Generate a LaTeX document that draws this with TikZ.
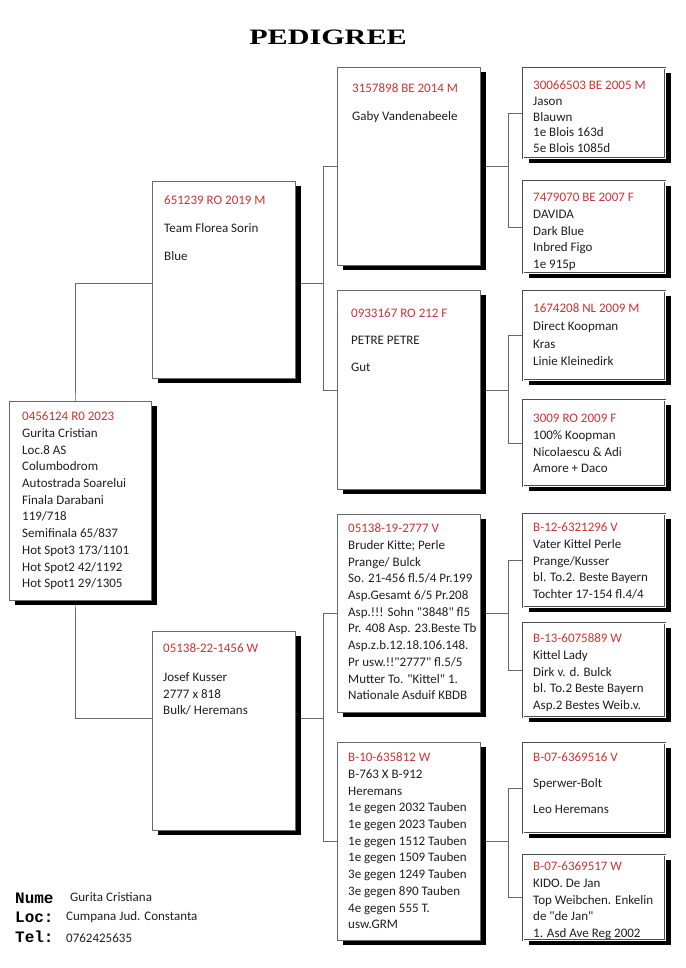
\documentclass[tikz,border=0pt]{standalone}
\usepackage{fontspec}
\setmainfont{Carlito}[Ligatures=TeXOff]
\newfontfamily\titlefont{Liberation Serif}
\newfontfamily\labelfont{Liberation Mono}
\usepackage{graphicx}
\usepackage{tikz}
\usetikzlibrary{shadows,backgrounds,calc}

\definecolor{idred}{RGB}{204,51,51}
\definecolor{linegray}{RGB}{105,105,105}

\tikzset{
  pbox/.style={draw=linegray, line width=0.8pt, fill=white, anchor=north west, inner sep=0pt,
    drop shadow={shadow xshift=6pt, shadow yshift=-5pt, fill=black, opacity=1}},
  smallbox/.style={pbox, draw=black!70, line width=0.6pt, double=white, double distance=0.9pt},
  ptext/.style={anchor=north west, inner sep=0pt, align=left, text=black!88,
    font=\fontsize{13}{16.7}\selectfont},
  flabel/.style={anchor=west, inner sep=0pt, font=\labelfont\bfseries\fontsize{16}{16}\selectfont},
  fvalue/.style={anchor=west, inner sep=0pt, text=black!88, font=\fontsize{13}{16}\selectfont},
  link/.style={draw=linegray, line width=0.8pt},
}
\newcommand{\pid}[1]{\rule{0pt}{10pt}\textcolor{idred}{#1}}

\begin{document}
\begin{tikzpicture}[x=1pt,y=-1pt]
    \useasboundingbox (0,0) rectangle (685,968);
    % Title
    \node (title) at (328,37) {\titlefont\bfseries\fontsize{22}{22}\selectfont\scalebox{1.37}[1]{PEDIGREE}};

    % Boxes
    \node[pbox, minimum width=142pt, minimum height=199pt] (root) at (9,401) {};
    \node[pbox, minimum width=143pt, minimum height=197pt] (f) at (152,181) {};
    \node[pbox, minimum width=143pt, minimum height=199pt] (m) at (152,631) {};
    \node[pbox, minimum width=143pt, minimum height=198pt] (ff) at (337,67) {};
    \node[pbox, minimum width=143pt, minimum height=199pt] (fm) at (337,290) {};
    \node[pbox, minimum width=143pt, minimum height=198pt] (mf) at (337,514) {};
    \node[pbox, minimum width=143pt, minimum height=198pt] (mm) at (337,742) {};
    \node[smallbox, minimum width=142pt, minimum height=90pt] (fff) at (523,68) {};
    \node[smallbox, minimum width=142pt, minimum height=92pt] (ffm) at (523,181) {};
    \node[smallbox, minimum width=142pt, minimum height=89pt] (fmf) at (523,291) {};
    \node[smallbox, minimum width=142pt, minimum height=86pt] (fmm) at (523,400) {};
    \node[smallbox, minimum width=142pt, minimum height=93pt] (mff) at (523,514) {};
    \node[smallbox, minimum width=142pt, minimum height=94pt] (mfm) at (523,623) {};
    \node[smallbox, minimum width=142pt, minimum height=90pt] (mmf) at (523,743) {};
    \node[smallbox, minimum width=142pt, minimum height=85pt] (mmm) at (523,855) {};

    % Connectors
    \coordinate (j0) at ([xshift=66pt]root.west);
    \coordinate (j1) at ([xshift=28pt,yshift=-3.5pt]f.east);
    \coordinate (j2) at ([xshift=28pt,yshift=13pt]m.east);
    \coordinate (j3) at ([xshift=28pt]ff.east);
    \coordinate (j4) at ([xshift=28pt]fm.east);
    \coordinate (j5) at ([xshift=28pt]mf.east);
    \coordinate (j6) at ([xshift=28pt]mm.east);
    \begin{scope}[on background layer]
      \fill[white] (0,0) rectangle (685,968);
      \draw[link] ([yshift=-3.5pt]f.west) -| (j0) |- ([yshift=13pt]m.west);
      \draw[link] ([yshift=-3.5pt]f.east) -- (j1);
      \draw[link] (ff.west) -| (j1) |- (fm.west);
      \draw[link] ([yshift=13pt]m.east) -- (j2);
      \draw[link] (mf.west) -| (j2) |- (mm.west);
      \draw[link] (ff.east) -- (j3);
      \draw[link] (fff.west) -| (j3) |- (ffm.west);
      \draw[link] (fm.east) -- (j4);
      \draw[link] (fmf.west) -| (j4) |- (fmm.west);
      \draw[link] (mf.east) -- (j5);
      \draw[link] (mff.west) -| (j5) |- (mfm.west);
      \draw[link] (mm.east) -- (j6);
      \draw[link] (mmf.west) -| (j6) |- (mmm.west);
    \end{scope}

    % Texts
    \node[ptext] (root-t) at ([shift={(13,9.5)}]root.north west) {\pid{0456124 R0 2023}\\Gurita Cristian\\Loc.8 AS\\Columbodrom\\Autostrada Soarelui\\Finala Darabani\\119/718\\Semifinala 65/837\\Hot Spot3 173/1101\\Hot Spot2 42/1192\\Hot Spot1 29/1305};
    \node[ptext] (f-t) at ([shift={(12,13.5)}]f.north west) {\pid{651239 RO 2019 M}\\[11pt]Team Florea Sorin\\[11pt]Blue};
    \node[ptext] (m-t) at ([shift={(11,11.5)}]m.north west) {\pid{05138-22-1456 W}\\[12pt]Josef Kusser\\2777 x 818\\Bulk/ Heremans};
    \node[ptext] (ff-t) at ([shift={(15,15.5)}]ff.north west) {\pid{3157898 BE 2014 M}\\[11pt]Gaby Vandenabeele};
    \node[ptext] (fm-t) at ([shift={(14,17.5)}]fm.north west) {\pid{0933167 RO 212 F}\\[10pt]PETRE PETRE\\[10pt]Gut};
    \node[ptext] (mf-t) at ([shift={(11,8.5)}]mf.north west) {\pid{05138-19-2777 V}\\Bruder Kitte; Perle\\Prange/ Bulck\\So. 21-456 fl.5/4 Pr.199\\Asp.Gesamt 6/5 Pr.208\\Asp.!!! Sohn "3848" fl5\\Pr. 408 Asp. 23.Beste Tb\\Asp.z.b.12.18.106.148.\\Pr usw.!!"2777" fl.5/5\\Mutter To. "Kittel" 1.\\Nationale Asduif KBDB};
    \node[ptext] (mm-t) at ([shift={(11,9.5)}]mm.north west) {\pid{B-10-635812 W}\\B-763 X B-912\\Heremans\\1e gegen 2032 Tauben\\1e gegen 2023 Tauben\\1e gegen 1512 Tauben\\1e gegen 1509 Tauben\\3e gegen 1249 Tauben\\3e gegen 890 Tauben\\4e gegen 555 T.\\usw.GRM};
    \node[ptext] (fff-t) at ([shift={(10,11.5)}]fff.north west) {\pid{30066503 BE 2005 M}\\[-1pt]Jason\\[-1pt]Blauwn\\[-1pt]1e Blois 163d\\[-1pt]5e Blois 1085d};
    \node[ptext] (ffm-t) at ([shift={(10,10.5)}]ffm.north west) {\pid{7479070 BE 2007 F}\\DAVIDA\\Dark Blue\\Inbred Figo\\1e 915p};
    \node[ptext] (fmf-t) at ([shift={(10,11.5)}]fmf.north west) {\pid{1674208 NL 2009 M}\\[1pt]Direct Koopman\\[1pt]Kras\\[1pt]Linie Kleinedirk};
    \node[ptext] (fmm-t) at ([shift={(10,12.5)}]fmm.north west) {\pid{3009 RO 2009 F}\\100\% Koopman\\Nicolaescu \& Adi\\Amore + Daco};
    \node[ptext] (mff-t) at ([shift={(10,7.5)}]mff.north west) {\pid{B-12-6321296 V}\\Vater Kittel Perle\\Prange/Kusser\\bl. To.2. Beste Bayern\\Tochter 17-154 fl.4/4};
    \node[ptext] (mfm-t) at ([shift={(10,9.5)}]mfm.north west) {\pid{B-13-6075889 W}\\Kittel Lady\\Dirk v. d. Bulck\\bl. To.2 Beste Bayern\\Asp.2 Bestes Weib.v.};
    \node[ptext] (mmf-t) at ([shift={(10,8.5)}]mmf.north west) {\pid{B-07-6369516 V}\\[9.3pt]Sperwer-Bolt\\[9.3pt]Leo Heremans};
    \node[ptext] (mmm-t) at ([shift={(10,5.5)}]mmm.north west) {\pid{B-07-6369517 W}\\KIDO. De Jan\\Top Weibchen. Enkelin\\de "de Jan"\\1. Asd Ave Reg 2002};

    % Footer
    \node[flabel] (nume) at (15,898) {Nume};
    \node[flabel] (loc) at (15,917) {Loc:};
    \node[flabel] (tel) at (15,937) {Tel:};
    \node[fvalue] (nume-v) at (70,897) {Gurita Cristiana};
    \node[fvalue] (loc-v) at (66,917) {Cumpana Jud. Constanta};
    \node[fvalue] (tel-v) at (66,938) {0762425635};
\end{tikzpicture}
\end{document}
